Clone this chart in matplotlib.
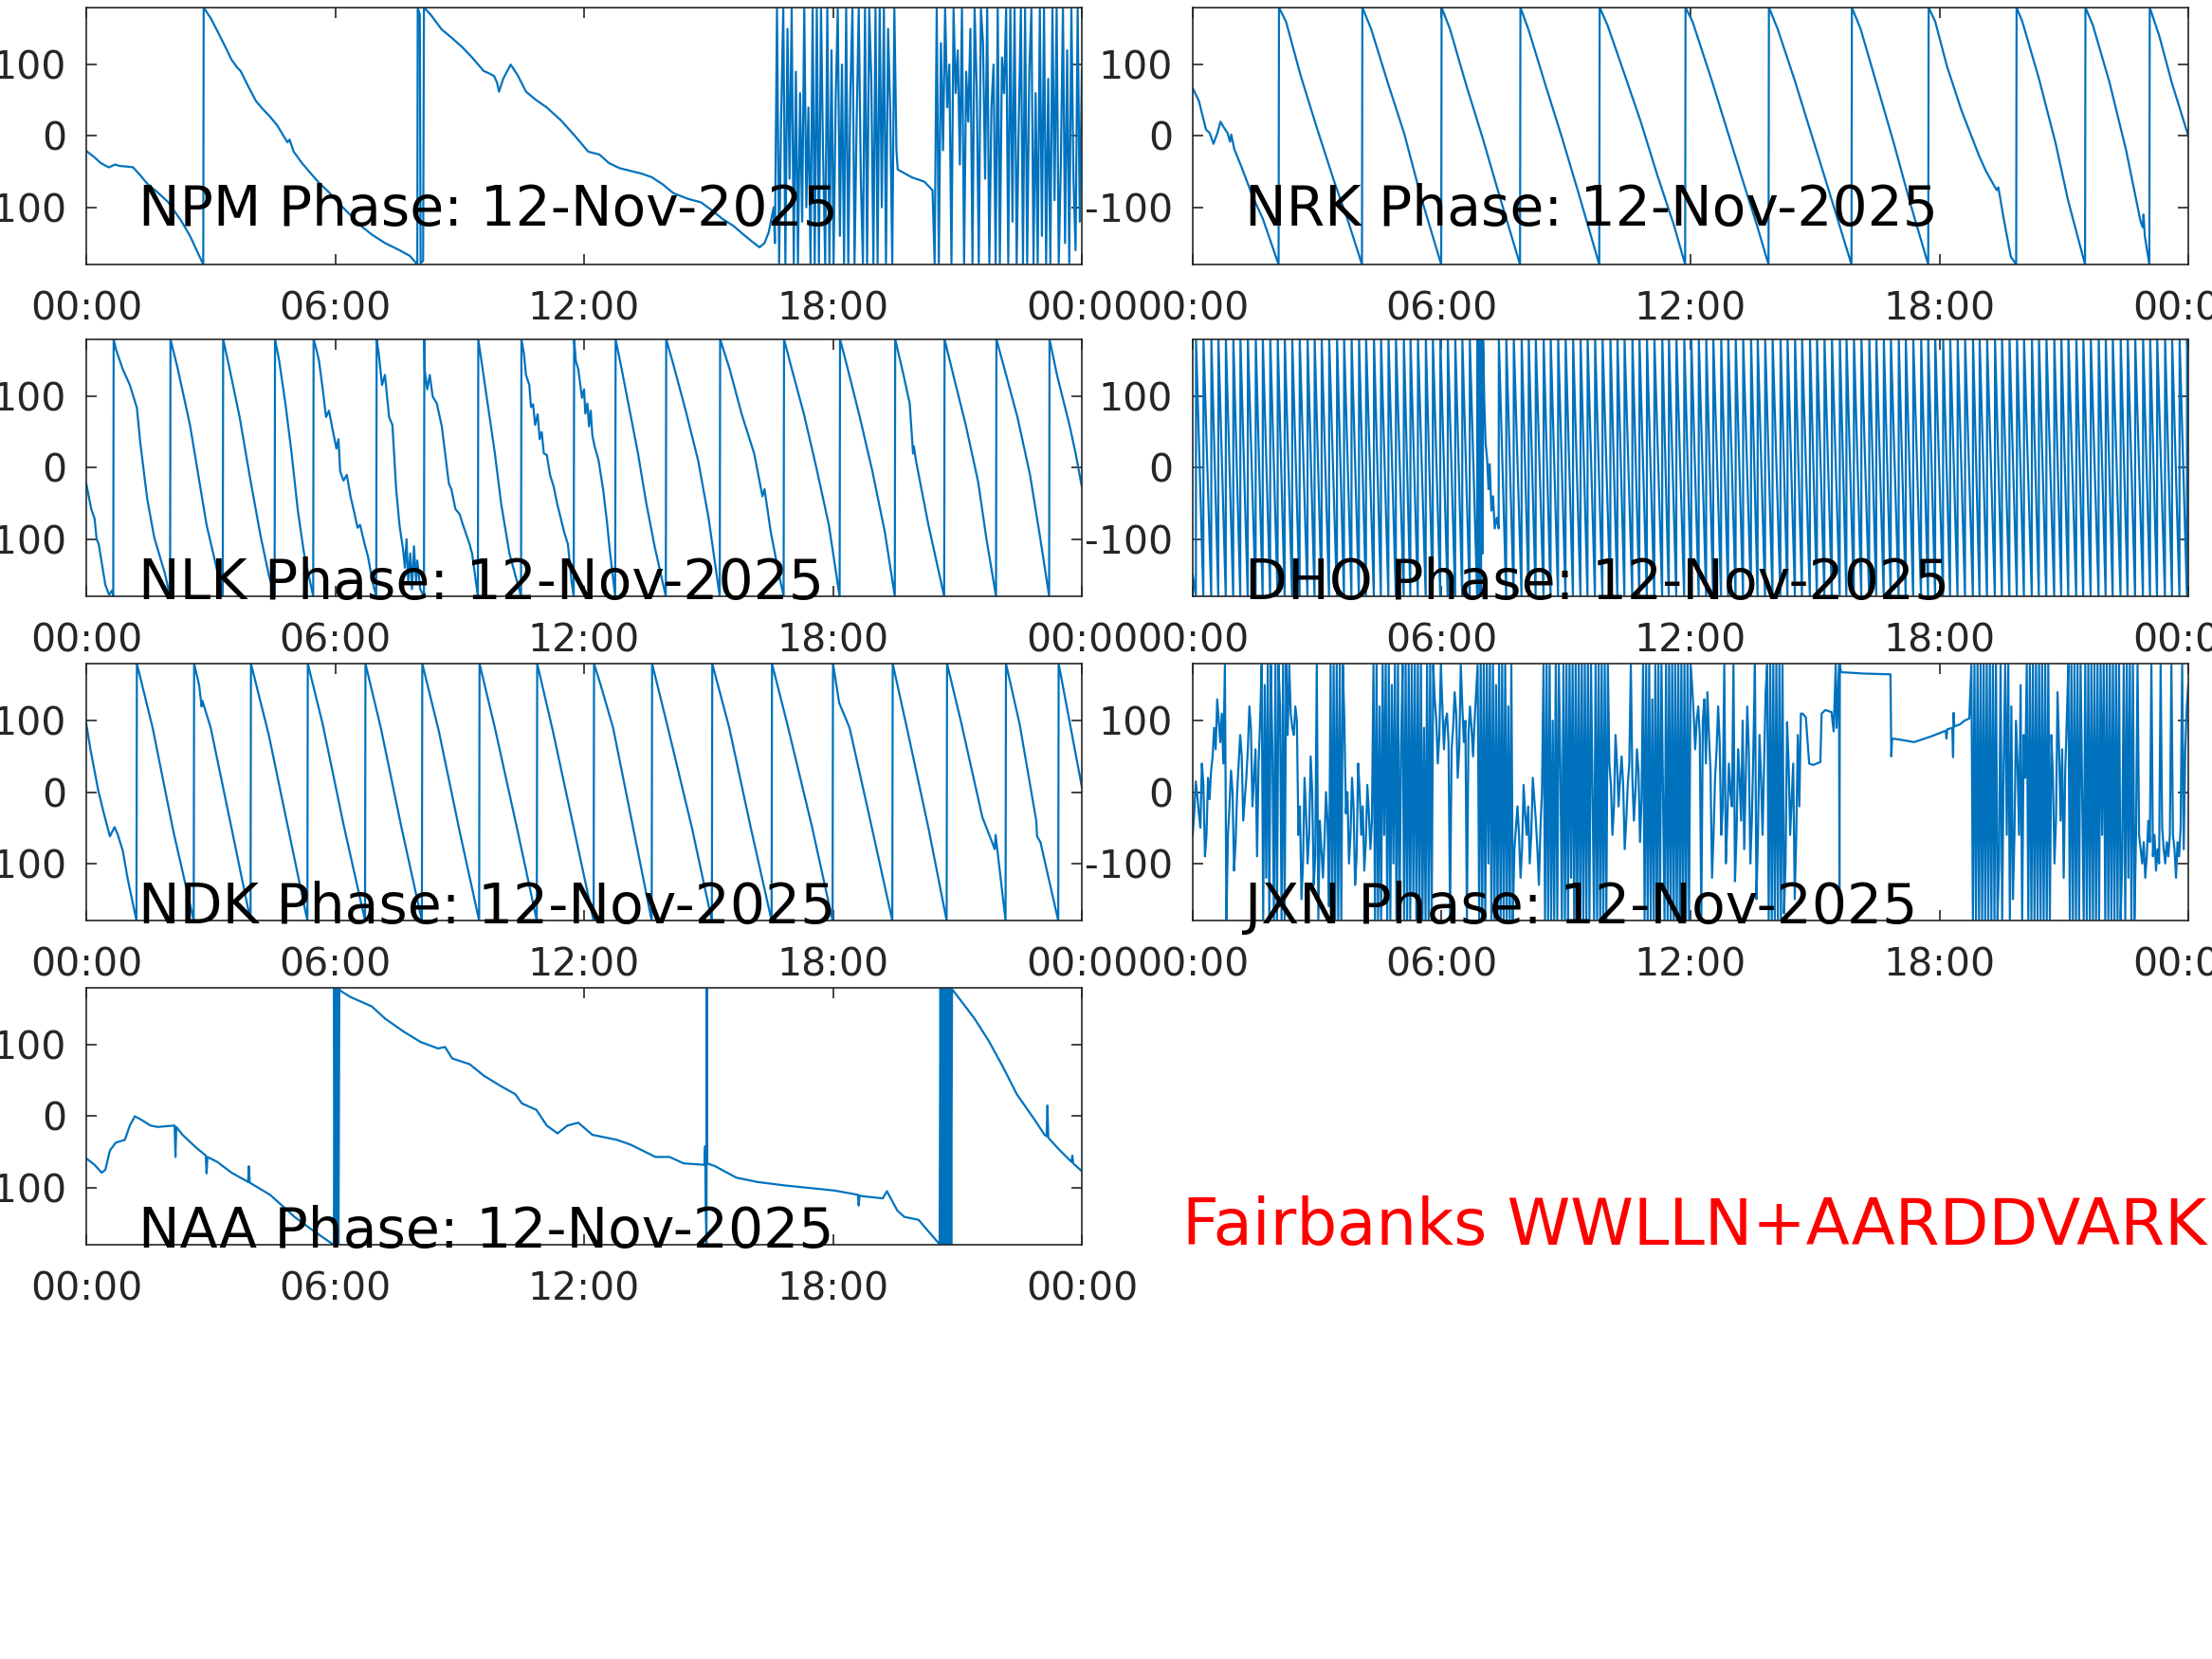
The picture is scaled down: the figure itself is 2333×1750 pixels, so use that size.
import numpy as np
import matplotlib.pyplot as plt

plt.rcParams['font.family'] = ['DejaVu Sans']
plt.rcParams['axes.unicode_minus'] = False

date_str = "12-Nov-2025"
site_str = "Fairbanks WWLLN+AARDDVARK"
hour_ticks = [0, 6, 12, 18, 24]
hour_labels = ["00:00", "06:00", "12:00", "18:00", "00:00"]
phase_ticks = [-100, 0, 100]
line_color = '#0072BD'
axis_color = '#262626'

# ---- NPM: (hour, phase deg) ----
npm_points_a = [(0, -21), (0.2, -30), (0.35, -38), (0.54, -44), (0.7, -40), (0.8, -42), (1.0, -43), (1.13, -44),
                (1.3, -55), (1.47, -67), (1.7, -78), (1.98, -93), (2.3, -120), (2.5, -140), (2.82, -180),
                (2.83, 180), (3.0, 165), (3.16, 147), (3.35, 125), (3.5, 107), (3.65, 95), (3.72, 91), (3.9, 70),
                (4.09, 49), (4.25, 38), (4.43, 27), (4.6, 15), (4.85, -9), (4.9, -5), (5.0, -22), (5.2, -38),
                (5.36, -49), (5.6, -65), (5.87, -80), (6.1, -95), (6.37, -111), (6.6, -125), (6.88, -138),
                (7.2, -150), (7.55, -160), (7.8, -168), (7.98, -180), (7.99, 180), (8.04, 170), (8.06, -178),
                (8.12, -175), (8.14, 180), (8.3, 170), (8.57, 149), (8.8, 138), (9.07, 124), (9.3, 110),
                (9.58, 91), (9.7, 88), (9.83, 84), (9.9, 75), (9.95, 62), (10.05, 80), (10.23, 100), (10.4, 85),
                (10.6, 62), (10.85, 50), (11.1, 40), (11.44, 22), (11.78, 0), (12.1, -22), (12.37, -26),
                (12.6, -38), (12.85, -45), (13.13, -49), (13.4, -53), (13.64, -58), (13.9, -68), (14.15, -80),
                (14.5, -88), (14.82, -93), (15.1, -105), (15.33, -116), (15.6, -126), (15.84, -138),
                (16.05, -148), (16.23, -156), (16.35, -150), (16.45, -135), (16.57, -100)]
npm_noise_a = [-150, 178, -178, 30, 178, -178, 150, -60, 178, -178, 90, -178, 60, -120, 178, -100, 40, -178,
               178, -178, 178, -178, 178, -30, -178, 178, -178, 120, -178, 50, 178, -140, 100, -178, 178, -178,
               60, 178, -178, 20, 178, -60, -178, 178, -178, 178, 80, -178, 178, -178, 178, -100, 178, -178,
               150, 40, -178, 178, -20]
npm_points_b = [(19.56, -47), (19.9, -58), (20.2, -64), (20.4, -76)]
npm_noise_b = [-178, 178, -178, 130, -20, 178, 40, 100, -178, 178, 60, 120, -40, 178, -178, 90, 20, 150,
               -178, 178, 70, -178, 178, 130, -60, 178, -178, 40, 100, -178, 178, -178, 110, 60, 178, -178,
               178, -120, 178, -178, 20, 178, -178, 178, -178, 90, 178, -178, 60, -178, 178, -140, 178, -178,
               80, -178, 178, -90, 178, -178, -40, 178, -150, 120, -178, 178, -60, -160, 178, -120, 93]

# ---- NRK ----
nrk_points = [(0, 67), (0.15, 49), (0.32, 9), (0.41, 4), (0.5, -11), (0.6, 5), (0.67, 20), (0.75, 12), (0.84, 4),
              (0.9, -8), (0.93, 2), (1.0, -18), (1.18, -44), (1.44, -84), (1.69, -116), (2.07, -180),
              (2.08, 180), (2.25, 160), (2.6, 85), (3.0, 10), (3.4, -62), (3.75, -120), (4.08, -180),
              (4.09, 180), (4.3, 150), (4.7, 75), (5.1, 3), (5.5, -85), (5.99, -180),
              (6.0, 180), (6.2, 150), (6.6, 70), (7.0, -5), (7.4, -85), (7.89, -180),
              (7.9, 180), (8.1, 148), (8.5, 72), (8.9, -2), (9.3, -80), (9.8, -180),
              (9.81, 180), (10.0, 155), (10.4, 88), (10.8, 20), (11.2, -55), (11.6, -125), (11.87, -180),
              (11.88, 180), (12.05, 160), (12.5, 80), (12.9, 5), (13.3, -70), (13.6, -125), (13.88, -180),
              (13.89, 180), (14.1, 150), (14.5, 80), (14.9, 5), (15.3, -70), (15.88, -180),
              (15.89, 180), (16.1, 150), (16.5, 70), (16.9, -10), (17.3, -95), (17.73, -180),
              (17.74, 180), (17.9, 160), (18.18, 98), (18.53, 36), (18.95, -27), (19.12, -49), (19.38, -76),
              (19.42, -72), (19.45, -82), (19.55, -116), (19.72, -169), (19.85, -180),
              (19.86, 180), (20.0, 160), (20.4, 80), (20.8, -10), (21.1, -90), (21.51, -180),
              (21.52, 180), (21.7, 155), (22.1, 75), (22.5, -20), (22.85, -120), (22.9, -128), (22.92, -110),
              (22.95, -140), (23.06, -180), (23.07, 180), (23.3, 140), (23.6, 75), (24.0, 0)]

# ---- NLK ----
nlk_points = [(0, -22), (0.12, -58), (0.2, -71), (0.25, -100), (0.3, -107), (0.46, -164), (0.55, -178),
              (0.62, -172), (0.65, -180), (0.66, 180), (0.72, 165), (0.88, 138), (1.05, 116), (1.22, 84),
              (1.3, 36), (1.47, -44), (1.64, -98), (1.89, -147), (2.02, -180),
              (2.03, 180), (2.2, 140), (2.5, 60), (2.7, -10), (2.9, -80), (3.1, -130), (3.29, -180),
              (3.3, 180), (3.45, 140), (3.7, 70), (3.95, -15), (4.2, -95), (4.4, -150), (4.54, -180),
              (4.55, 180), (4.65, 150), (4.8, 90), (4.95, 20), (5.1, -60), (5.25, -120), (5.47, -180),
              (5.48, 180), (5.55, 165), (5.61, 150), (5.7, 110), (5.78, 71), (5.85, 80), (5.95, 50), (6.03, 27),
              (6.08, 40), (6.12, -5), (6.2, -18), (6.28, -10), (6.37, -40), (6.45, -60), (6.54, -84),
              (6.6, -80), (6.71, -107), (6.79, -124), (6.9, -160), (6.99, -180),
              (7.0, 180), (7.05, 160), (7.13, 116), (7.2, 130), (7.3, 71), (7.38, 60), (7.47, -30),
              (7.55, -80), (7.64, -116), (7.68, -140), (7.72, -100), (7.76, -160), (7.81, -120), (7.85, -170),
              (7.9, -110), (7.95, -160), (7.98, -130), (8.05, -170), (8.14, -180),
              (8.15, 180), (8.16, 136), (8.22, 110), (8.28, 130), (8.35, 100), (8.45, 90), (8.57, 58),
              (8.65, 20), (8.74, -22), (8.8, -30), (8.9, -58), (9.0, -65), (9.08, -80), (9.24, -107),
              (9.3, -120), (9.44, -180),
              (9.45, 180), (9.55, 140), (9.7, 80), (9.85, 20), (10.0, -50), (10.2, -120), (10.48, -180),
              (10.49, 180), (10.55, 160), (10.6, 130), (10.68, 116), (10.72, 85), (10.77, 89), (10.82, 60),
              (10.88, 75), (10.93, 40), (10.98, 50), (11.03, 20), (11.1, 18), (11.18, -10), (11.27, -27),
              (11.35, -50), (11.44, -71), (11.52, -90), (11.61, -107), (11.7, -160), (11.75, -180),
              (11.76, 180), (11.8, 150), (11.86, 138), (11.95, 98), (12.0, 110), (12.03, 76), (12.08, 90),
              (12.12, 58), (12.16, 80), (12.2, 45), (12.25, 31), (12.35, 10), (12.46, -31), (12.55, -75),
              (12.62, -116), (12.75, -180),
              (12.76, 180), (12.9, 140), (13.1, 80), (13.3, 20), (13.5, -50), (13.7, -110), (13.97, -180),
              (13.98, 180), (14.15, 145), (14.45, 80), (14.75, 10), (15.0, -70), (15.27, -180),
              (15.28, 180), (15.5, 140), (15.8, 75), (16.1, 20), (16.3, -40), (16.35, -30), (16.5, -90),
              (16.7, -150), (16.81, -180),
              (16.82, 180), (17.0, 140), (17.3, 75), (17.6, 0), (17.9, -80), (18.16, -180),
              (18.17, 180), (18.35, 140), (18.65, 70), (18.95, -5), (19.25, -90), (19.49, -180),
              (19.5, 180), (19.7, 130), (19.85, 90), (19.93, 20), (19.95, 30), (20.0, 10), (20.3, -80),
              (20.68, -180),
              (20.69, 180), (20.9, 130), (21.2, 60), (21.5, -20), (21.7, -100), (21.93, -180),
              (21.94, 180), (22.15, 135), (22.45, 70), (22.75, -10), (23.0, -100), (23.21, -180),
              (23.22, 180), (23.4, 130), (23.7, 60), (23.85, 20), (24.0, -27)]

# ---- DHO: times of the -180 -> +180 wraps ----
dho_head = [(0, -150), (0.076, -180)]
dho_wraps_a = [0.08, 0.26, 0.45, 0.62, 0.80, 0.98, 1.15, 1.33, 1.52, 1.69, 1.87, 2.05, 2.22, 2.40, 2.58, 2.77,
               2.94, 3.11, 3.29, 3.48, 3.65, 3.83, 4.01, 4.18, 4.37, 4.54, 4.72, 4.90, 5.09, 5.25, 5.43, 5.62,
               5.79, 5.97, 6.15, 6.33, 6.50, 6.68, 6.86]
dho_glitch = [(6.86, 180), (6.91, -180), (6.92, 180), (6.95, -180), (6.96, 180), (6.99, -120), (7.0, 178),
              (7.03, 90), (7.06, 35), (7.1, 10), (7.13, -30), (7.16, 5), (7.2, -60), (7.24, -40), (7.28, -85),
              (7.33, -70), (7.375, -85)]
dho_wraps_b = [7.38, 7.56, 7.74, 7.93, 8.10, 8.27, 8.46, 8.63, 8.81, 8.99, 9.17, 9.35, 9.52, 9.70, 9.88,
               10.07, 10.24, 10.41, 10.60, 10.77, 10.95, 11.13, 11.32, 11.48, 11.66, 11.85, 12.02, 12.20, 12.38,
               12.55, 12.74, 12.91, 13.09, 13.27, 13.46, 13.62, 13.80, 13.98, 14.17, 14.34, 14.52, 14.69, 14.88,
               15.05, 15.23, 15.41, 15.60, 15.76, 15.94, 16.12, 16.31, 16.48, 16.66, 16.83, 17.02, 17.19,
               17.37, 17.56, 17.73, 17.90, 18.09, 18.26, 18.44, 18.62, 18.81, 18.97, 19.15, 19.34, 19.51,
               19.69, 19.87, 20.04, 20.23, 20.40, 20.58, 20.77, 20.94, 21.11, 21.30, 21.47, 21.65, 21.84,
               22.01, 22.18, 22.37, 22.54, 22.72, 22.91, 23.08, 23.25, 23.44, 23.61, 23.79, 23.97]
dho_tail = [(23.97, 180), (24.0, 150)]

# ---- NDK ----
ndk_points = [(0, 96), (0.1, 60), (0.29, 2), (0.42, -29), (0.57, -62), (0.63, -55), (0.68, -49), (0.75, -58),
              (0.88, -82), (1.0, -122), (1.21, -180),
              (1.22, 180), (1.6, 90), (2.1, -55), (2.59, -180),
              (2.6, 180), (2.72, 150), (2.78, 120), (2.8, 128), (3.0, 90), (3.5, -50), (3.96, -180),
              (3.97, 180), (4.4, 80), (4.9, -60), (5.33, -180),
              (5.34, 180), (5.7, 95), (6.2, -45), (6.72, -180),
              (6.73, 180), (7.1, 90), (7.6, -50), (8.09, -180),
              (8.1, 180), (8.5, 85), (9.0, -55), (9.47, -180),
              (9.48, 180), (9.85, 90), (10.4, -55), (10.86, -180),
              (10.87, 180), (11.25, 85), (11.75, -50), (12.23, -180),
              (12.24, 180), (12.4, 150), (12.7, 90), (13.2, -55), (13.63, -180),
              (13.64, 180), (14.0, 95), (14.6, -50), (15.08, -180),
              (15.09, 180), (15.5, 90), (16.0, -45), (16.52, -180),
              (16.53, 180), (16.9, 95), (17.5, -50), (17.99, -180),
              (18.0, 180), (18.15, 125), (18.4, 90), (18.9, -40), (19.43, -180),
              (19.44, 180), (19.8, 85), (20.3, -50), (20.74, -180),
              (20.75, 180), (21.1, 95), (21.6, -35), (21.9, -80), (21.92, -60), (22.16, -180),
              (22.17, 180), (22.5, 95), (22.9, -40), (22.92, -62), (23.0, -70), (23.43, -180),
              (23.44, 180), (24.0, 7)]

# ---- JXN: noisy stretches sampled evenly, quiet stretch as points ----
jxn_noise_a = [-60, -30, 15, -5, -30, -50, 40, 10, -90, -60, 20, -10, 30, 50,
               90, 60, 130, 100, 70, 110, 40,
               178, -178,
               -60, -20, 30, 0, -110, -70, 0, 40, 80, 50, -40, -10, 20, 60, 120, 90, -20, 20, 60, -90, 40, 100,
               178, -178, 150, -120, 178, -178, 178, 60, -178, 178, -178, 178, 120, -178, 178, -178, 178, 80, 178,
               110, 90, 80, 120, 100,
               -60, -20, -150, -100, 20, -30, -100, -60, 50, 0, -130, -90, 178, -178, -40, -80, -120, -70, 0,
               -40, -160, 178,
               -178, 178, -178, 178, -178, 178, -178, 178, 100,
               -30, 0, -100, -60, 20, -20, -130, -90, 40, 0, -60, -20, -110, -70, 10, -30, -80, -40,
               178, -178, 178, -178, 120, -178, 178, -60, 178, -178, 178, -178, 150, -100, 178, -178, 178, -178,
               60, 178, -178, 178, -178, 178, -178, 178, -140, 178, -178, 178, -178, 178, -178, 90, -178, 178,
               -178, 178, -178, 178,
               130, 100, 40, 80, 178, 120, 60, 100, 110, 70, -178, 60, 90, 140, 110, 20, 60, 178, 120, 70, 100,
               -178, 80, 120, 90, 50, 100, 140, 178, -178,
               178, -178, 178, -178, 178, -100, 178, -178, 178, -178, 150, -178, 178, -178, 178, -178, 178, -178,
               120, -178, 178, -178,
               -80, -50, -20, -60, -120, -80, 10, -30, -60, -20, -100, -60, 20, -10, -40, -80, -130, -50, 0,
               178, -178, 178, -178, 178, -178, 100, -178, 178, -178, 178, 40, -178, 178, -178, 178, -178, 178,
               -120, 178, -178, 178, -178, 178, -178, 178, -178, 178, -178, 178, -178, 178, 0, -178, 178, -178,
               178, -178, 178, -178, 178, -178, 178,
               40, 10, -60, -20, 80, 40, -20, 20, 50, 10, -80, -40, 10, 40, 178, 20, -40, 0, 60, 30, -70, -10,
               178, -178, 178, -178, 178, -178, 130, -178, 178, -178, 178, -178, 178, 0, -178, 178, -178, 178,
               -178, 178, -178, 178, -178, 178, -178, 178, -178, 178, -178, 178, -178, 178,
               150, 110, 60, 100, 120, 80, -178, 100, 130, 40, 140,
               80, 30, -120, -60, 20, 60, 120, 70, -60, -20, 178, -100, -40, 40, 0, -20, 178, -125, -60, 60, 20,
               -40, 100, -80, 20,
               120, 60, -100, -40, 60, 178, -150, -60, 80, 20, -60, 40, 140,
               178, -178, 178, -178, 178, -178, 178, -178, 178, -178, 178,
               -170, -100, 98, 40, -60, -10, 40, -150, -60, 80, -20, 110]
jxn_points = [(14.7, 110), (14.78, 105), (14.86, 40), (14.95, 38), (15.13, 42), (15.16, 110), (15.25, 115),
              (15.4, 112), (15.45, 85), (15.5, 178), (15.52, 90), (15.58, 178), (15.59, -178), (15.6, 178),
              (15.63, 168), (16.2, 166), (16.8, 165), (16.82, 165), (16.84, 50), (16.86, 75), (17.0, 74),
              (17.39, 70), (17.8, 78), (18.15, 86), (18.17, 75), (18.19, 88), (18.31, 90), (18.33, 49),
              (18.34, 111), (18.36, 92), (18.5, 95), (18.6, 100), (18.72, 103)]
jxn_noise_b = [178, -178, 178, -178, 178, -178, 178, -178, 178, -178, 178, -178, 178, -178, 178, -178, 178, -178,
               -100, 178, -178, 40, 178, -60, 178, -178, 120,
               -150, -60, 100, 40, -60, 150, -178, 80, 20,
               178, -178, 178, -178, 178, -178, 178, -178, 178, -178, 178, -178, 178, -178, 178, -178,
               80, 20, -100, -40, 140, 60, -40, 60, -120, 30, 100,
               178, -178, 178, -178, 178, -178, 178, -178, 178, 0, -178, 178, -178, 178, -178, 178, -178, 178,
               -178, 178, -178, 178, -60, 178, -178, 178, -178, 178, -178, 178, -178, 178, -178, 178, -178,
               -100, 178, -178, 178, -120, 178, -178, 178, -178, -60, 178,
               -60, -80, -100, -70, -120, -90, -40, -70, 178, -90, -60, -110, -80, -100, 178, -50, -80, -100,
               -70, -90, -60, 178, -60, -80, -120, -70, -90, -50, 178, -80,
               60, 120, 150]

# ---- NAA ----
naa_points = [(0, -59), (0.2, -68), (0.37, -79), (0.46, -75), (0.57, -48), (0.71, -37), (0.93, -33), (1.05, -13),
              (1.17, 0), (1.3, -4), (1.55, -13), (1.72, -15), (2.13, -13), (2.15, -57), (2.17, -15),
              (2.32, -26), (2.65, -44), (2.88, -55), (2.9, -80), (2.92, -57), (3.16, -64), (3.5, -79),
              (3.9, -92), (3.92, -70), (3.94, -93), (4.43, -110), (4.68, -123), (5.02, -141), (5.44, -159),
              (5.86, -176), (5.97, -180), (5.98, 180), (6.0, -180), (6.02, 180), (6.04, -180), (6.06, 180),
              (6.08, -180), (6.10, 180), (6.12, 176), (6.37, 167), (6.88, 154), (7.2, 137), (7.64, 119),
              (8.06, 104), (8.48, 95), (8.65, 97), (8.82, 81), (9.24, 73), (9.58, 57), (10.0, 42), (10.34, 31),
              (10.5, 18), (10.85, 9), (11.1, -13), (11.36, -24), (11.6, -13), (11.86, -9), (12.2, -26),
              (12.79, -33), (13.13, -40), (13.72, -57), (14.06, -57), (14.4, -66), (14.9, -68), (14.92, -42),
              (14.93, -120), (14.95, -180), (14.96, 180), (14.97, -66), (15.16, -70), (15.67, -86),
              (16.17, -92), (16.85, -97), (17.53, -101), (18.03, -104), (18.6, -110), (18.62, -125),
              (18.64, -111), (18.71, -112), (19.2, -115), (19.3, -105), (19.55, -132), (19.72, -141),
              (20.06, -145), (20.55, -178), (20.57, -180), (20.59, 180), (20.61, -180), (20.63, 180),
              (20.65, -180), (20.67, 180), (20.69, -180), (20.71, 180), (20.73, -180), (20.75, 180),
              (20.77, -180), (20.79, 180), (20.81, -180), (20.83, 180), (20.85, -180), (20.87, 178),
              (21.07, 163), (21.41, 137), (21.75, 106), (22.09, 70), (22.43, 31), (22.85, -4), (23.1, -26),
              (23.15, -28), (23.17, 15), (23.19, -30), (23.44, -46), (23.75, -64), (23.77, -55), (23.79, -66),
              (24.0, -77)]


def unzip(points):
    return [p[0] for p in points], [p[1] for p in points]


def even_hours(t0, t1, values):
    return list(np.linspace(t0, t1, len(values)))


def saw_from_wraps(wraps):
    hrs, ph = [], []
    for a, b in zip(wraps[:-1], wraps[1:]):
        hrs += [a, b - 0.004]
        ph += [180, -180]
    return hrs, ph


series = {}

h, p = unzip(npm_points_a)
hb, pb = unzip(npm_points_b)
series['NPM'] = (h + even_hours(16.6, 19.53, npm_noise_a) + hb + even_hours(20.45, 24.0, npm_noise_b),
                 p + npm_noise_a + pb + npm_noise_b)
series['NRK'] = unzip(nrk_points)
series['NLK'] = unzip(nlk_points)

h0, p0 = unzip(dho_head)
ha, pa = saw_from_wraps(dho_wraps_a)
hg, pg = unzip(dho_glitch)
hb, pb = saw_from_wraps(dho_wraps_b)
ht, pt = unzip(dho_tail)
series['DHO'] = (h0 + ha + hg + hb + ht, p0 + pa + pg + pb + pt)

series['NDK'] = unzip(ndk_points)

hj, pj = unzip(jxn_points)
series['JXN'] = (even_hours(0.0, 14.66, jxn_noise_a) + hj + even_hours(18.77, 24.0, jxn_noise_b),
                 jxn_noise_a + pj + jxn_noise_b)
series['NAA'] = unzip(naa_points)

# layout (figure fractions)
col_x = [0.0390, 0.5392]
row_y = [0.8406, 0.6406, 0.4451, 0.2497]
ax_w, ax_h = 0.4501, 0.1549
order = [('NPM', 0, 0), ('NRK', 0, 1), ('NLK', 1, 0), ('DHO', 1, 1), ('NDK', 2, 0), ('JXN', 2, 1), ('NAA', 3, 0)]

fig = plt.figure(figsize=(23.33, 17.5), dpi=100)

for name, r, c in order:
    ax = fig.add_axes([col_x[c], row_y[r], ax_w, ax_h])
    hrs, ph = series[name]
    ax.plot(hrs, ph, color=line_color, lw=1.6)
    ax.set_xlim(0, 24)
    ax.set_ylim(-180, 180)
    ax.set_xticks(hour_ticks)
    ax.set_xticklabels(hour_labels)
    ax.set_yticks(phase_ticks)
    ax.tick_params(direction='in', length=8, width=1.2, colors=axis_color, labelsize=29.5,
                   top=True, right=True)
    ax.tick_params(axis='x', pad=20)
    ax.tick_params(axis='y', pad=15)
    for s in ax.spines.values():
        s.set_color(axis_color)
        s.set_linewidth(1.2)
    ty = 0.151 if r == 0 else -0.011
    ax.text(0.0524, ty, "%s Phase: %s" % (name, date_str), transform=ax.transAxes,
            fontsize=42, color='black', va='baseline', ha='left', clip_on=False, zorder=5)

fig.text(0.5345, 0.2497, site_str, color='red', fontsize=48.5, va='baseline', ha='left')

fig.savefig('out.png', dpi=100)
